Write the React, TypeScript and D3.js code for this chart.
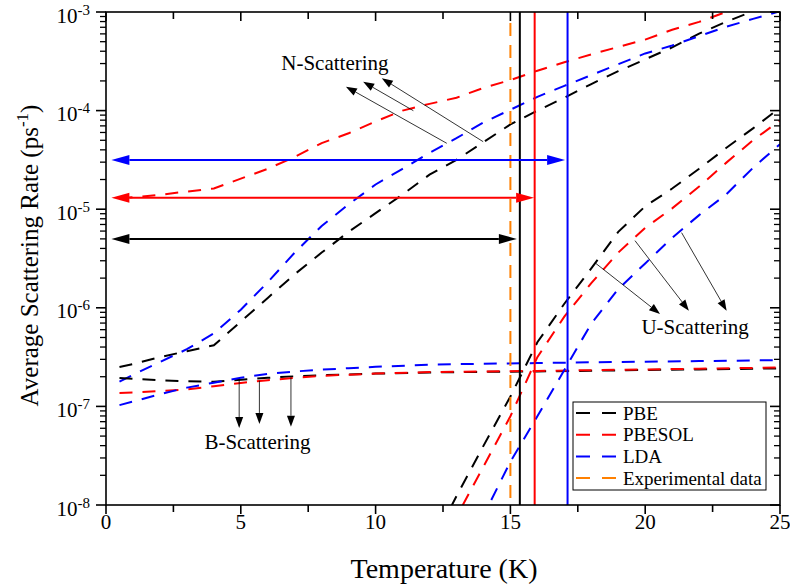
import React from "react";
import * as d3 from "d3";

// ---------- data ----------
const tempsN = [0.5, 1, 2, 3, 4, 5, 6, 7, 8, 9, 10, 11, 12, 13, 14, 15, 16, 17, 18, 19, 20, 21, 22, 23, 24, 25];
const pbeN = [2.51e-7, 2.69e-7, 3.16e-7, 3.63e-7, 4.17e-7, 7.24e-7, 1.26e-6, 2.19e-6, 3.63e-6, 5.89e-6, 9.12e-6, 1.41e-5, 2.24e-5, 3.16e-5, 4.79e-5, 7.24e-5, 1.0e-4, 1.35e-4, 1.86e-4, 2.51e-4, 3.31e-4, 4.37e-4, 6.03e-4, 7.94e-4, 1.02e-3, 1.32e-3];
const pbesolN = [1.29e-5, 1.32e-5, 1.4e-5, 1.51e-5, 1.62e-5, 2.04e-5, 2.57e-5, 3.39e-5, 4.68e-5, 5.89e-5, 7.76e-5, 1.0e-4, 1.17e-4, 1.35e-4, 1.7e-4, 2.04e-4, 2.54e-4, 3.09e-4, 3.72e-4, 4.42e-4, 5.25e-4, 6.61e-4, 7.94e-4, 1.0e-3, 1.23e-3, 1.51e-3];
const ldaN = [1.78e-7, 2.09e-7, 2.82e-7, 3.8e-7, 5.5e-7, 9.55e-7, 1.82e-6, 3.63e-6, 6.76e-6, 1.12e-5, 1.78e-5, 2.57e-5, 3.72e-5, 5.25e-5, 7.59e-5, 1.02e-4, 1.38e-4, 1.78e-4, 2.29e-4, 2.95e-4, 3.8e-4, 4.57e-4, 5.69e-4, 7.08e-4, 8.51e-4, 1.02e-3];

const tempsB = [0.5, 1, 2, 3, 4, 5, 6, 7, 8, 9, 10, 12, 14, 16, 18, 20, 22, 25];
const pbeB = [1.94e-7, 1.91e-7, 1.84e-7, 1.8e-7, 1.78e-7, 1.86e-7, 1.95e-7, 2.02e-7, 2.07e-7, 2.11e-7, 2.15e-7, 2.21e-7, 2.24e-7, 2.26e-7, 2.3e-7, 2.34e-7, 2.37e-7, 2.43e-7];
const pbesolB = [1.37e-7, 1.38e-7, 1.43e-7, 1.49e-7, 1.6e-7, 1.73e-7, 1.84e-7, 1.95e-7, 2.04e-7, 2.1e-7, 2.15e-7, 2.23e-7, 2.26e-7, 2.29e-7, 2.33e-7, 2.37e-7, 2.41e-7, 2.48e-7];
const ldaB = [1.03e-7, 1.12e-7, 1.33e-7, 1.55e-7, 1.74e-7, 1.95e-7, 2.14e-7, 2.26e-7, 2.36e-7, 2.44e-7, 2.52e-7, 2.65e-7, 2.71e-7, 2.75e-7, 2.8e-7, 2.84e-7, 2.88e-7, 2.95e-7];

const tempsU = [12, 13, 14, 15, 16, 17, 18, 19, 20, 21, 22, 23, 24, 25];
const pbeU = [3.6e-9, 1.23e-8, 3.98e-8, 1.26e-7, 4.47e-7, 1.1e-6, 2.51e-6, 5.89e-6, 1.07e-5, 1.62e-5, 2.57e-5, 4.17e-5, 6.61e-5, 1.07e-4];
const pbesolU = [2.4e-9, 7.6e-9, 2.45e-8, 7.94e-8, 3.16e-7, 8.13e-7, 1.78e-6, 3.63e-6, 6.46e-6, 1.02e-5, 1.7e-5, 2.95e-5, 5.01e-5, 7.94e-5];
const ldaU = [6.3e-10, 2.2e-9, 7.8e-9, 2.75e-8, 7.94e-8, 2.34e-7, 6.92e-7, 1.55e-6, 2.82e-6, 5.13e-6, 8.71e-6, 1.41e-5, 2.63e-5, 4.57e-5];

const seriesNames = ["PBE", "PBESOL", "LDA", "Experimental data"];
const seriesColors = ["#000000", "#ff0000", "#0000ff", "#ff8000"];

// vertical markers (K)
const verticalT = [15.35, 15.9, 17.12];
const experimentalT = 15.0;

// horizontal double arrows
const hArrowLevels = [3.16e-5, 1.31e-5, 5.0e-6];
const hArrowStart = [0.2, 0.2, 0.2];
const hArrowEnd = [17.03, 15.88, 15.24];
const hArrowColorIdx = [2, 1, 0];

// annotation arrows
const nTailT = [12.64, 11.4, 13.99];
const nTailV = [4.66e-5, 9.98e-5, 4.84e-5];
const nTipT = [8.9, 9.54, 10.23];
const nTipV = [1.75e-4, 1.96e-4, 2.13e-4];

const bT = [4.94, 5.69, 6.86];
const bTailV = [1.9e-7, 1.82e-7, 1.97e-7];
const bTipV = [6.04e-8, 6.64e-8, 6.22e-8];

const uTailT = [18.14, 19.62, 21.35];
const uTailV = [2.86e-6, 4.8e-6, 5.78e-6];
const uTipT = [20.55, 21.62, 23.02];
const uTipV = [8.65e-7, 9.35e-7, 9.35e-7];

const annotationLabels = ["N-Scattering", "B-Scattering", "U-Scattering"];
const annotationT = [8.49, 5.62, 21.85];
const annotationV = [2.58e-4, 3.7e-8, 5.42e-7];

const xTicks = [0, 5, 10, 15, 20, 25];
const xMinorTicks = [2.5, 7.5, 12.5, 17.5, 22.5];
const yExponents = [-8, -7, -6, -5, -4, -3];

const xTitle = "Temperature (K)";

// ---------- layout ----------
const W = 790;
const H = 586;
const L = 106;
const R = 780;
const T = 12;
const B = 505;
const FONT = "Liberation Serif, Tinos, Times New Roman, DejaVu Serif, serif";

function head(x1: number, y1: number, x2: number, y2: number, len: number, w: number) {
  const dx = x2 - x1;
  const dy = y2 - y1;
  const d = Math.hypot(dx, dy);
  const ux = dx / d;
  const uy = dy / d;
  const bx = x2 - ux * len;
  const by = y2 - uy * len;
  const nx = -uy;
  const ny = ux;
  return {
    pts: `${x2},${y2} ${bx + nx * w},${by + ny * w} ${bx - nx * w},${by - ny * w}`,
    bx,
    by,
  };
}

const txt = { fontFamily: FONT };

export default function App() {
  const x = d3.scaleLinear().domain([0, 25]).range([L, R]);
  const y = d3.scaleLog().domain([1e-8, 1e-3]).range([B, T]);

  const line = (ts: number[], vs: number[]) =>
    d3
      .line<number>()
      .x((_, i) => x(ts[i]))
      .y((v) => y(v))(vs) || "";

  const curves = [
    { ts: tempsN, vs: pbeN, c: 0 },
    { ts: tempsN, vs: pbesolN, c: 1 },
    { ts: tempsN, vs: ldaN, c: 2 },
    { ts: tempsB, vs: pbeB, c: 0 },
    { ts: tempsB, vs: pbesolB, c: 1 },
    { ts: tempsB, vs: ldaB, c: 2 },
    { ts: tempsU, vs: pbeU, c: 0 },
    { ts: tempsU, vs: pbesolU, c: 1 },
    { ts: tempsU, vs: ldaU, c: 2 },
  ];

  const yMinor: number[] = [];
  yExponents.slice(0, -1).forEach((e) => {
    for (let k = 2; k <= 9; k++) yMinor.push(k * Math.pow(10, e));
  });

  const annArrows: { x1: number; y1: number; x2: number; y2: number }[] = [];
  nTailT.forEach((t, i) => annArrows.push({ x1: x(t), y1: y(nTailV[i]), x2: x(nTipT[i]), y2: y(nTipV[i]) }));
  bT.forEach((t, i) => annArrows.push({ x1: x(t), y1: y(bTailV[i]), x2: x(t), y2: y(bTipV[i]) }));
  uTailT.forEach((t, i) => annArrows.push({ x1: x(t), y1: y(uTailV[i]), x2: x(uTipT[i]), y2: y(uTipV[i]) }));

  const legX = 573;
  const legY = 402;
  const legW = 193;
  const legH = 88;

  return (
    <svg width={W} height={H} style={{ position: "absolute", left: 0, top: 0, background: "#fff", fontFamily: FONT }}>
      <defs>
        <clipPath id="plotClip">
          <rect x={L} y={T} width={R - L} height={B - T} />
        </clipPath>
      </defs>
      <rect x={0} y={0} width={W} height={H} fill="#fff" />

      <g clipPath="url(#plotClip)">
        {curves.map((cv, i) => (
          <path key={i} d={line(cv.ts, cv.vs)} fill="none" stroke={seriesColors[cv.c]} strokeWidth={2} strokeDasharray="13,10" />
        ))}
        <line x1={x(experimentalT)} x2={x(experimentalT)} y1={T + 11} y2={B} stroke={seriesColors[3]} strokeWidth={2} strokeDasharray="13,9" />
        {verticalT.map((t, i) => (
          <line key={i} x1={x(t)} x2={x(t)} y1={T} y2={B} stroke={seriesColors[i]} strokeWidth={2} />
        ))}
      </g>

      {hArrowLevels.map((v, i) => {
        const yy = y(v);
        const xa = x(hArrowStart[i]);
        const xb = x(hArrowEnd[i]);
        const col = seriesColors[hArrowColorIdx[i]];
        const h1 = head(xb, yy, xa, yy, 18, 5);
        const h2 = head(xa, yy, xb, yy, 18, 5);
        return (
          <g key={i}>
            <line x1={h1.bx} x2={h2.bx} y1={yy} y2={yy} stroke={col} strokeWidth={2} />
            <polygon points={h1.pts} fill={col} />
            <polygon points={h2.pts} fill={col} />
          </g>
        );
      })}

      {annArrows.map((a, i) => {
        const h = head(a.x1, a.y1, a.x2, a.y2, 11, 4);
        return (
          <g key={i}>
            <line x1={a.x1} y1={a.y1} x2={h.bx} y2={h.by} stroke="#000" strokeWidth={0.8} />
            <polygon points={h.pts} fill="#000" />
          </g>
        );
      })}

      {annotationLabels.map((s, i) => (
        <text key={s} x={x(annotationT[i])} y={y(annotationV[i])} textAnchor="middle" fontSize={21} fill="#000" style={txt}>
          {s}
        </text>
      ))}

      <rect x={L} y={T} width={R - L} height={B - T} fill="none" stroke="#000" strokeWidth={1.6} />

      {xTicks.map((t) => (
        <g key={"xt" + t}>
          <line x1={x(t)} x2={x(t)} y1={B} y2={B + 9} stroke="#000" strokeWidth={1.6} />
          <line x1={x(t)} x2={x(t)} y1={T} y2={T + 9} stroke="#000" strokeWidth={1.6} />
          <text x={x(t)} y={B + 24} textAnchor="middle" fontSize={21} style={txt}>
            {t}
          </text>
        </g>
      ))}
      {xMinorTicks.map((t) => (
        <g key={"xm" + t}>
          <line x1={x(t)} x2={x(t)} y1={B} y2={B + 7} stroke="#000" strokeWidth={1.6} />
          <line x1={x(t)} x2={x(t)} y1={T} y2={T + 7} stroke="#000" strokeWidth={1.6} />
        </g>
      ))}

      {yExponents.map((e) => {
        const yy = y(Math.pow(10, e));
        return (
          <g key={"yt" + e}>
            <line x1={L - 10} x2={L} y1={yy} y2={yy} stroke="#000" strokeWidth={1.6} />
            <line x1={R - 10} x2={R} y1={yy} y2={yy} stroke="#000" strokeWidth={1.6} />
            <text x={90} y={yy + 10.5} textAnchor="end" fontSize={21} style={txt}>
              10
              <tspan dy={-8} fontSize={15}>
                {String(e)}
              </tspan>
            </text>
          </g>
        );
      })}
      {yMinor.map((v, i) => {
        const yy = y(v);
        return (
          <g key={"ym" + i}>
            <line x1={L - 6} x2={L} y1={yy} y2={yy} stroke="#000" strokeWidth={1.3} />
            <line x1={R - 6} x2={R} y1={yy} y2={yy} stroke="#000" strokeWidth={1.3} />
          </g>
        );
      })}

      <text x={(L + R) / 2 + 1} y={578} textAnchor="middle" fontSize={28} style={txt}>
        {xTitle}
      </text>
      <text transform={`translate(38,${(T + B) / 2 - 3}) rotate(-90)`} textAnchor="middle" fontSize={25} style={txt}>
        Average Scattering Rate (ps
        <tspan dy={-10} fontSize={17}>
          -1
        </tspan>
        <tspan dy={10}>)</tspan>
      </text>

      <rect x={legX} y={legY} width={legW} height={legH} fill="#fff" stroke="#000" strokeWidth={1} />
      {seriesNames.map((n, i) => {
        const yy = legY + 11 + i * 21.7;
        return (
          <g key={n}>
            <line x1={legX + 3} x2={legX + 43} y1={yy} y2={yy} stroke={seriesColors[i]} strokeWidth={2} strokeDasharray="14,12" />
            <text x={legX + 50} y={yy + 6.5} fontSize={19} style={txt}>
              {n}
            </text>
          </g>
        );
      })}
    </svg>
  );
}
